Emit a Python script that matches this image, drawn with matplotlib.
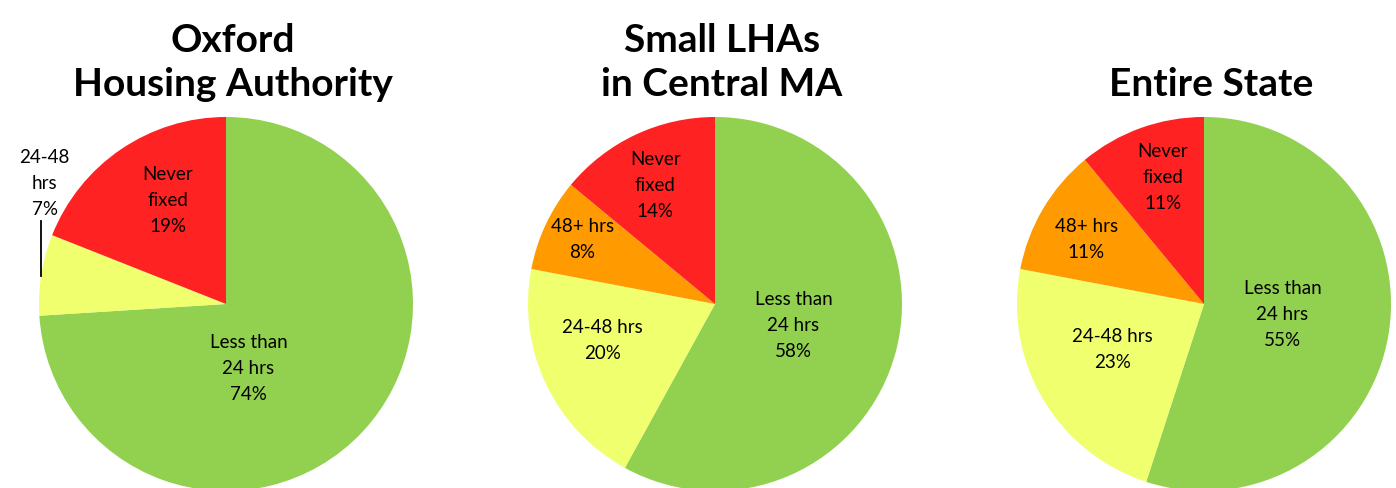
import matplotlib.pyplot as plt

# ---------------------------------------------------------
# Data: share of repairs by time to fix (%)
# ---------------------------------------------------------
categories = ["Less than\n24 hrs", "24-48 hrs", "48+ hrs", "Never\nfixed"]
titles = ["Oxford\nHousing Authority", "Small LHAs\nin Central MA", "Entire State"]
oxford = [74, 7, 0, 19]
central_ma = [58, 20, 8, 14]
entire_state = [55, 23, 11, 11]

colors = ["#92D050", "#EFFF6E", "#FF9A00", "#FF2222"]

W, H = 1396, 489
R = 187  # pie radius in pixels
centers = [(226, 305), (715, 305), (1204, 305)]
title_x = [233, 722, 1211]

# label offsets (in pie radii) for each wedge, per pie
label_pos = [
    [(0.12, -0.34), (-0.97, 0.65), None, (-0.31, 0.56)],
    [(0.42, -0.11), (-0.60, -0.19), (-0.71, 0.35), (-0.32, 0.64)],
    [(0.42, -0.05), (-0.49, -0.24), (-0.63, 0.35), (-0.22, 0.68)],
]

plt.rcParams["font.family"] = ["Lato", "DejaVu Sans"]
fig = plt.figure(figsize=(W / 100, H / 100), dpi=100)

for i, values in enumerate([oxford, central_ma, entire_state]):
    cx, cy = centers[i]
    span = 1.3
    ax = fig.add_axes([
        (cx - span * R) / W, (H - cy - span * R) / H,
        2 * span * R / W, 2 * span * R / H,
    ])
    ax.pie(values, colors=colors, startangle=90, counterclock=False,
           radius=1, wedgeprops={"linewidth": 0})
    ax.set_xlim(-span, span)
    ax.set_ylim(-span, span)
    ax.set_aspect("equal")
    ax.axis("off")

    for j, val in enumerate(values):
        if val == 0 or label_pos[i][j] is None:
            continue
        name = categories[j]
        if i == 0 and j == 1:
            name = "24-48\nhrs"
        lx, ly = label_pos[i][j]
        ax.text(lx, ly, f"{name}\n{val}%", ha="center", va="center",
                fontsize=13.5, linespacing=1.65, color="black")

    fig.text(title_x[i] / W, 1 - 96 / H, titles[i], ha="center", va="baseline",
             fontsize=28, fontweight="bold", linespacing=1.3)

# leader line for the small Oxford 24-48 hrs slice
ax0 = fig.axes[0]
ax0.plot([-0.99, -0.99], [0.15, 0.445], color="black", linewidth=1.3)

fig.savefig("out.png", dpi=100)
